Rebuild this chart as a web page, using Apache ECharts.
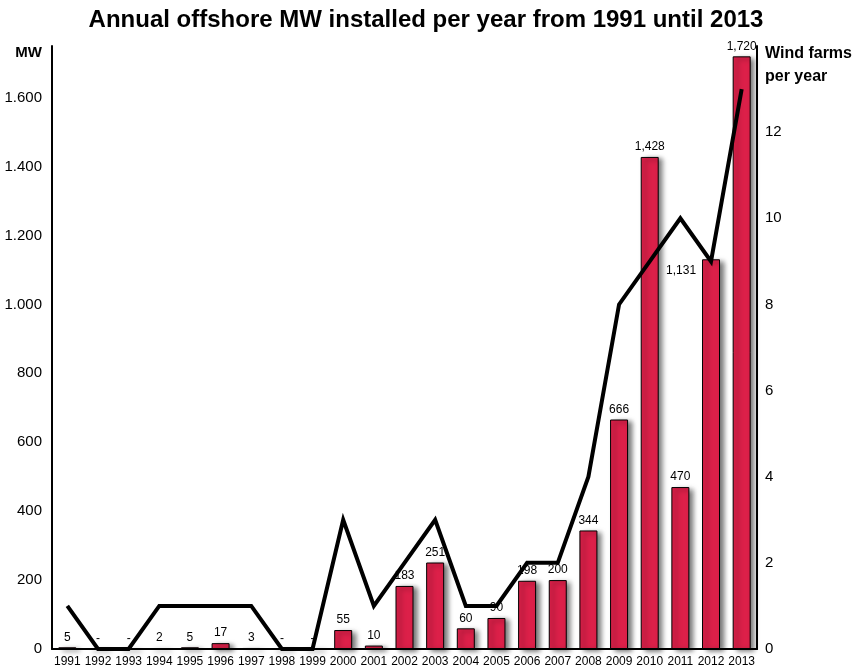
<!DOCTYPE html>
<html>
<head>
<meta charset="utf-8">
<script src="https://cdn.jsdelivr.net/npm/echarts@6/dist/echarts.min.js"></script>
<style>html,body{margin:0;padding:0;background:#fff}#c{width:866px;height:670px}</style>
</head>
<body>
<div id="c"></div>
<script>
const years = ['1991','1992','1993','1994','1995','1996','1997','1998','1999','2000','2001','2002','2003','2004','2005','2006','2007','2008','2009','2010','2011','2012','2013'];
const mwInstalled = [5,0,0,2,5,17,3,0,0,55,10,183,251,60,90,198,200,344,666,1428,470,1131,1720];
const windFarms = [1,0,0,1,1,1,1,0,0,3,1,2,3,1,1,2,2,4,8,9,10,9,13];
const leftTicks = [0,200,400,600,800,1000,1200,1400,1600];
const rightTicks = [0,2,4,6,8,10,12];

const FONT = '"Liberation Sans", Arial, Helvetica, sans-serif';
const chart = echarts.init(document.getElementById('c'));

function fmtComma(v){ return v === 0 ? '-' : v.toLocaleString('en-US'); }
function fmtDot(v){ return String(v).replace(/\B(?=(\d{3})+(?!\d))/g, '.'); }

const barData = mwInstalled.map((v, i) => {
  const d = { value: v };
  if (years[i] === '2012') {
    d.label = { position: 'insideTopLeft', offset: [-40, 1] };
  }
  return d;
});

chart.setOption({
  animation: false,
  title: {
    text: 'Annual offshore MW installed per year from 1991 until 2013',
    left: 421, top: 3, textAlign: 'center',
    textStyle: { fontFamily: FONT, fontSize: 24, fontWeight: 'bold', color: '#000' }
  },
  grid: { left: 52, right: 109, top: 46, bottom: 21, containLabel: false },
  xAxis: {
    type: 'category', data: years,
    axisLine: { lineStyle: { color: '#000', width: 2 } },
    axisTick: { show: false },
    axisLabel: { fontFamily: FONT, fontSize: 12, color: '#000', margin: 7, interval: 0 }
  },
  yAxis: [
    {
      type: 'value', min: 0, max: 1750, interval: 200,
      name: 'MW', nameLocation: 'end', nameGap: -14,
      nameTextStyle: { fontFamily: FONT, fontSize: 15, fontWeight: 'bold', color: '#000', align: 'right', padding: [0, 10, 0, 0] },
      axisLine: { show: true, lineStyle: { color: '#000', width: 2 } },
      axisTick: { show: false },
      splitLine: { show: false },
      axisLabel: { fontFamily: FONT, fontSize: 15, color: '#000', margin: 10, showMaxLabel: false,
        formatter: v => leftTicks.includes(v) ? fmtDot(v) : '' }
    },
    {
      type: 'value', min: 0, max: 14, interval: 2,
      name: 'Wind farms\nper year', nameLocation: 'end', nameGap: -42,
      nameTextStyle: { fontFamily: FONT, fontSize: 16, fontWeight: 'bold', color: '#000', align: 'left', lineHeight: 23, padding: [0, 0, 0, 8] },
      axisLine: { show: true, lineStyle: { color: '#000', width: 2 } },
      axisTick: { show: false },
      splitLine: { show: false },
      axisLabel: { fontFamily: FONT, fontSize: 15, color: '#000', margin: 8, showMaxLabel: false,
        formatter: v => rightTicks.includes(v) ? String(v) : '' }
    }
  ],
  series: [
    {
      type: 'bar', yAxisIndex: 0, data: barData, barWidth: 18,
      itemStyle: { color: '#DC2049', borderColor: '#000', borderWidth: 1,
        shadowColor: 'rgba(0,0,0,0.55)', shadowBlur: 5, shadowOffsetX: 4, shadowOffsetY: 2 },
      label: { show: true, position: 'top', distance: 4, fontFamily: FONT, fontSize: 12, color: '#000',
        formatter: p => fmtComma(p.value) }
    },
    {
      type: 'line', yAxisIndex: 1, data: windFarms, symbol: 'none', z: 5,
      lineStyle: { color: '#000', width: 4, join: 'miter' }
    }
  ]
});
</script>
</body>
</html>
